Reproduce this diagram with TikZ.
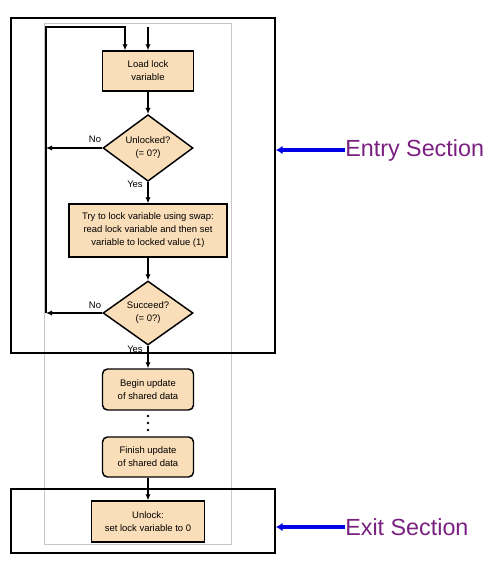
\documentclass[tikz,border=0pt]{standalone}
\usepackage{fontspec}
\setmainfont{Liberation Sans}
\usepackage{tikz}
\usetikzlibrary{shapes.geometric,arrows.meta}
\definecolor{boxfill}{RGB}{250,222,185}
\definecolor{seclabel}{RGB}{122,32,128}
\definecolor{secarrow}{RGB}{0,0,230}

\begin{document}
\begin{tikzpicture}[x=0.75pt,y=-0.75pt,
  stepbox/.style={draw,line width=1.1pt,fill=boxfill,align=center,minimum width=68.25pt,minimum height=30pt,inner sep=1pt,font=\fontsize{7.1}{9.75}\selectfont},
  roundbox/.style={stepbox,rounded corners=3.75pt},
  test/.style={diamond,draw,line width=1.1pt,fill=boxfill,align=center,minimum width=67.5pt,minimum height=48pt,inner sep=0pt,font=\fontsize{7.1}{9.75}\selectfont},
  flow/.style={line width=1.1pt,-{Latex[length=4.5pt,width=4pt]}},
  section/.style={draw,line width=2.2pt},
  seclbl/.style={text=seclabel,font=\fontsize{17.5}{20}\selectfont,anchor=west,inner sep=0pt},
  secarr/.style={secarrow,line width=2.3pt,-{Latex[length=5pt,width=6.5pt]}},
  answer/.style={font=\fontsize{7.1}{9}\selectfont,inner sep=1pt}]
\useasboundingbox (0,0) rectangle (489,573);
\draw[black!22,line width=0.6pt] (44,23) rectangle (231,544);
\node[stepbox] (load) at (148,71) {Load lock\\variable};
\node[test] (unl) at (148,148) {Unlocked?\\(= 0?)};
\node[stepbox,minimum width=118.5pt,minimum height=39.75pt] (try) at (148,230.5) {Try to lock variable using swap:\\read lock variable and then set\\variable to locked value (1)};
\node[test] (succ) at (148,313) {Succeed?\\(= 0?)};
\node[roundbox,minimum height=30.75pt] (begin) at (148,389.5) {Begin update\\of shared data};
\node[roundbox,minimum height=30pt] (finish) at (148,457) {Finish update\\of shared data};
\node[stepbox,minimum width=84.75pt,minimum height=30.75pt] (unlock) at (148,521.5) {Unlock:\\set lock variable to 0};
\coordinate (top) at (148,27);
\coordinate (lt) at (46,27);
\coordinate (lb) at (46,313);
\node[answer] (no1) at (95,139) {No};
\node[answer] (yes1) at (135,184) {Yes};
\node[answer] (no2) at (95,305) {No};
\node[answer] (yes2) at (135,349) {Yes};
\draw[flow] (top) -- (load);
\draw[flow] (lb) -- (lt) -| ([xshift=-17.25pt]load.north);
\draw[flow] (load) -- (unl);
\draw[flow] (unl) -- (try);
\draw[flow] (try) -- (succ);
\draw[flow] (succ) -- (begin);
\draw[flow] (finish) -- (unlock);
\draw[flow] (unl.west) -- (unl.west -| lt);
\draw[flow] (succ.west) -- (succ.west -| lt);
\foreach \y in {416,423,430}
\fill (148,\y) circle (1pt);
\draw[section] (11,18) rectangle (275,353);
\draw[section] (11,489) rectangle (275,553);
\coordinate (entR) at (276,150);
\coordinate (exitR) at (276,527);
\node[seclbl] (entry) at (345,150) {Entry Section};
\node[seclbl] (exit) at (345,527) {Exit Section};
\draw[secarr] (entry.west) -- (entR);
\draw[secarr] (exit.west) -- (exitR);
\end{tikzpicture}
\end{document}
